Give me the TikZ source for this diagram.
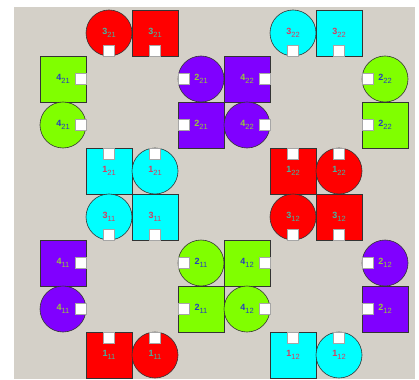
\documentclass[tikz,border=0pt]{standalone}
\usepackage{fontspec}
\setmainfont{Liberation Sans}

% fills and label colours
\definecolor{panel}{RGB}{212,208,200}
\definecolor{fR}{RGB}{255,0,0}
\definecolor{fG}{RGB}{128,255,0}
\definecolor{fP}{RGB}{128,0,255}
\definecolor{fC}{RGB}{0,255,255}
\definecolor{tR}{RGB}{70,180,160}
\definecolor{tG}{RGB}{40,60,190}
\definecolor{tP}{RGB}{150,200,60}
\definecolor{tC}{RGB}{215,60,95}

\newcommand{\lbl}[2]{\textbf{\fontsize{9}{9}\selectfont #1}\raisebox{-2.5pt}{\fontsize{7.5}{7.5}\selectfont #2}}

\tikzset{
  tile/.style={draw=black!80, line width=0.6pt, minimum size=46pt, inner sep=0pt},
  sq/.style={tile, rectangle},
  rnd/.style={tile, circle},
  port/.style={draw=gray!70, fill=white, line width=0.4pt, minimum size=11pt, inner sep=0pt}
}

\begin{document}
\begin{tikzpicture}[x=1pt, y=-1pt]
    % Canvas
    \useasboundingbox (0,0) rectangle (419,379);
    \fill[panel] (14,7) rectangle (415,379);

    % Four blocks: name / column offset / row offset / colours of 3,4,2,1
    \foreach \blk/\ox/\oy/\ca/\cb/\cc/\cd in {21/0/0/R/G/P/C, 22/4/0/C/P/G/R,
                                          11/0/4/C/P/G/R, 12/4/4/R/G/P/C}{
      % 3: top pair, port below
      \node[rnd, fill=f\ca, text=t\ca] (c3-\blk) at ({63+46*(\ox+1)},{33+46*\oy}) {\lbl{3}{\blk}};
      \node[sq, fill=f\ca, text=t\ca] (s3-\blk) at ({63+46*(\ox+2)},{33+46*\oy}) {\lbl{3}{\blk}};
      \node[port, anchor=south] (pc3-\blk) at (c3-\blk.south) {};
      \node[port, anchor=south] (ps3-\blk) at (s3-\blk.south) {};

      % 4: left pair, port right
      \node[sq, fill=f\cb, text=t\cb] (s4-\blk) at ({63+46*\ox},{33+46*(\oy+1)}) {\lbl{4}{\blk}};
      \node[rnd, fill=f\cb, text=t\cb] (c4-\blk) at ({63+46*\ox},{33+46*(\oy+2)}) {\lbl{4}{\blk}};
      \node[port, anchor=east] (ps4-\blk) at (s4-\blk.east) {};
      \node[port, anchor=east] (pc4-\blk) at (c4-\blk.east) {};

      % 2: right pair, port left
      \node[rnd, fill=f\cc, text=t\cc] (c2-\blk) at ({63+46*(\ox+3)},{33+46*(\oy+1)}) {\lbl{2}{\blk}};
      \node[sq, fill=f\cc, text=t\cc] (s2-\blk) at ({63+46*(\ox+3)},{33+46*(\oy+2)}) {\lbl{2}{\blk}};
      \node[port, anchor=west] (pc2-\blk) at (c2-\blk.west) {};
      \node[port, anchor=west] (ps2-\blk) at (s2-\blk.west) {};

      % 1: bottom pair, port above
      \node[sq, fill=f\cd, text=t\cd] (s1-\blk) at ({63+46*(\ox+1)},{33+46*(\oy+3)}) {\lbl{1}{\blk}};
      \node[rnd, fill=f\cd, text=t\cd] (c1-\blk) at ({63+46*(\ox+2)},{33+46*(\oy+3)}) {\lbl{1}{\blk}};
      \node[port, anchor=north] (ps1-\blk) at (s1-\blk.north) {};
      \node[port, anchor=north] (pc1-\blk) at (c1-\blk.north) {};
    }
  \end{tikzpicture}
\end{document}
